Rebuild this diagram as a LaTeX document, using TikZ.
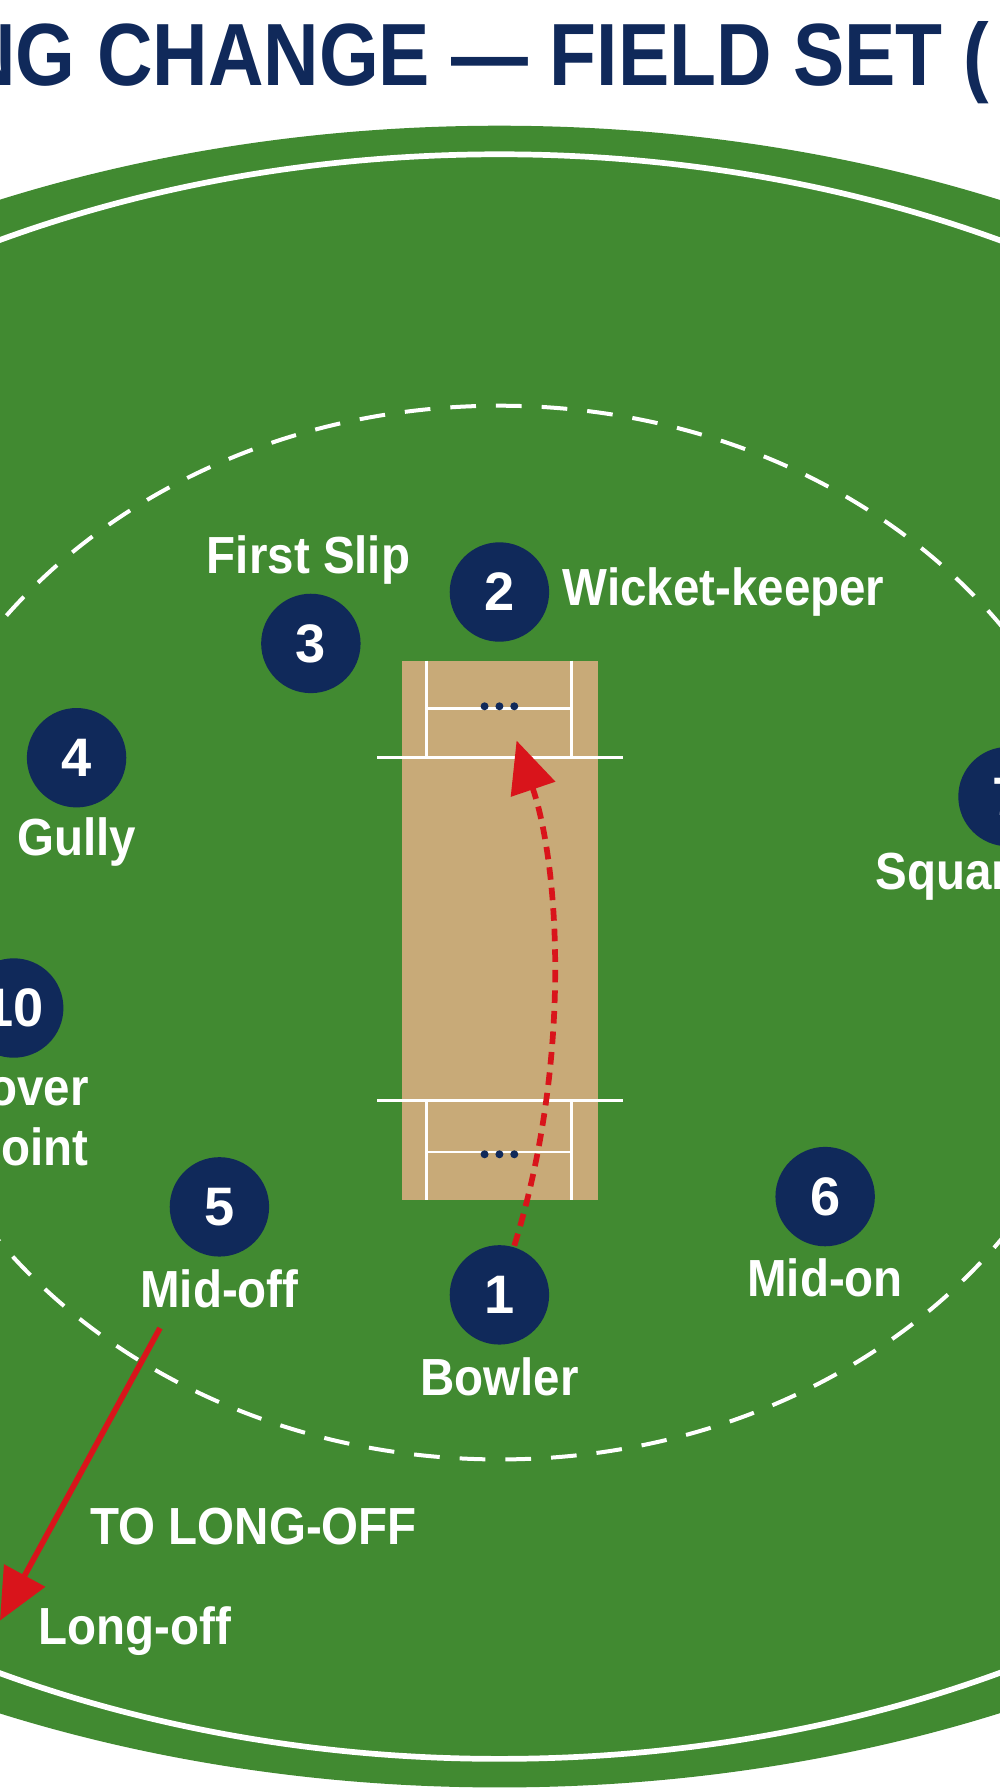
\documentclass[tikz,border=0pt]{standalone}
\usepackage{fontspec}
\setmainfont{Liberation Sans}
\usetikzlibrary{arrows.meta,positioning}
\definecolor{turf}{HTML}{418A31}
\definecolor{navy}{HTML}{10295A}
\definecolor{pitchtan}{HTML}{C8AA78}
\definecolor{runred}{HTML}{D9141B}
\tikzset{
  fielder/.style={circle,fill=navy,minimum size=1.74cm,inner sep=0pt,
                  text=white,font=\bfseries\fontsize{27}{27}\selectfont},
  tag/.style={text=white,font=\bfseries\fontsize{26}{30}\selectfont,xscale=.91,inner sep=0pt},
  crease/.style={white,line width=.05cm}
}
\begin{document}
\begin{tikzpicture}[x=0.02cm,y=-0.02cm]
\useasboundingbox (0,0) rectangle (875,1568);
\clip (0,0) rectangle (875,1568);
\fill[white] (0,0) rectangle (875,1568);
% title
\node[text=navy,font=\bfseries\fontsize{44}{44}\selectfont,xscale=.87,anchor=west] (title) at (-40,55) {NG CHANGE — FIELD SET (};
% ground
\fill[turf] (437,837) ellipse [x radius=1058,y radius=727];
\draw[white,line width=.1cm] (437,837) ellipse [x radius=971,y radius=702];
\draw[white,line width=.07cm,dash pattern=on .45cm off .35cm] (437,816) ellipse [x radius=540,y radius=461];
% pitch
\fill[pitchtan] (352,578) rectangle (523,1050);
\draw[crease] (330,663) -- (545,663);
\draw[crease] (330,963) -- (545,963);
\draw[crease] (373,620) -- (500,620);
\draw[crease] (373,1008) -- (500,1008);
\draw[crease] (373,578) -- (373,663) (500,578) -- (500,663);
\draw[crease] (373,963) -- (373,1050) (500,963) -- (500,1050);
\foreach \sx in {424,437,450}{
  \fill[navy] (\sx,618) circle (.07cm);
  \fill[navy] (\sx,1010) circle (.07cm);
}
% fielders
\node[fielder] (bowler) at (437,1133) {1};
\node[fielder] (keeper) at (437,518) {2};
\node[fielder] (slip) at (272,563) {3};
\node[fielder] (gully) at (67,663) {4};
\node[fielder] (midoff) at (192,1056) {5};
\node[fielder] (midon) at (722,1047) {6};
\node[fielder] (sqleg) at (882,697) {7};
\node[fielder] (cover) at (12,882) {10};
% labels
\node[tag,anchor=west] (lkeeper) at (492,518) {Wicket-keeper};
\node[tag] (lslip) at (270,490) {First Slip};
\node[tag] (lgully) at (67,737) {Gully};
\node[tag,anchor=west] (lsqleg) at (766,767) {Square Leg};
\node[tag,anchor=east,align=right] (lcover) at (78,978) {Cover\\Point};
\node[tag] (lmidoff) at (192,1128) {Mid-off};
\node[tag] (lmidon) at (722,1118) {Mid-on};
\node[tag] (lbowler) at (437,1205) {Bowler};
\node[tag] (lmove) at (222,1336) {TO LONG-OFF};
\node[tag] (llongoff) at (118,1427) {Long-off};
% movements
\coordinate (runup) at (450,1090);
\coordinate (crease) at (452,648);
\draw[runred,line width=.1cm,dash pattern=on .22cm off .14cm,-{Triangle[length=.9cm,width=.8cm]}]
  (runup) .. controls (500,930) and (490,760) .. (crease);
\coordinate (mostart) at (140,1162);
\coordinate (moend) at (0,1418);
\draw[runred,line width=.1cm,-{Triangle[length=.9cm,width=.8cm]}] (mostart) -- (moend);
\end{tikzpicture}
\end{document}
